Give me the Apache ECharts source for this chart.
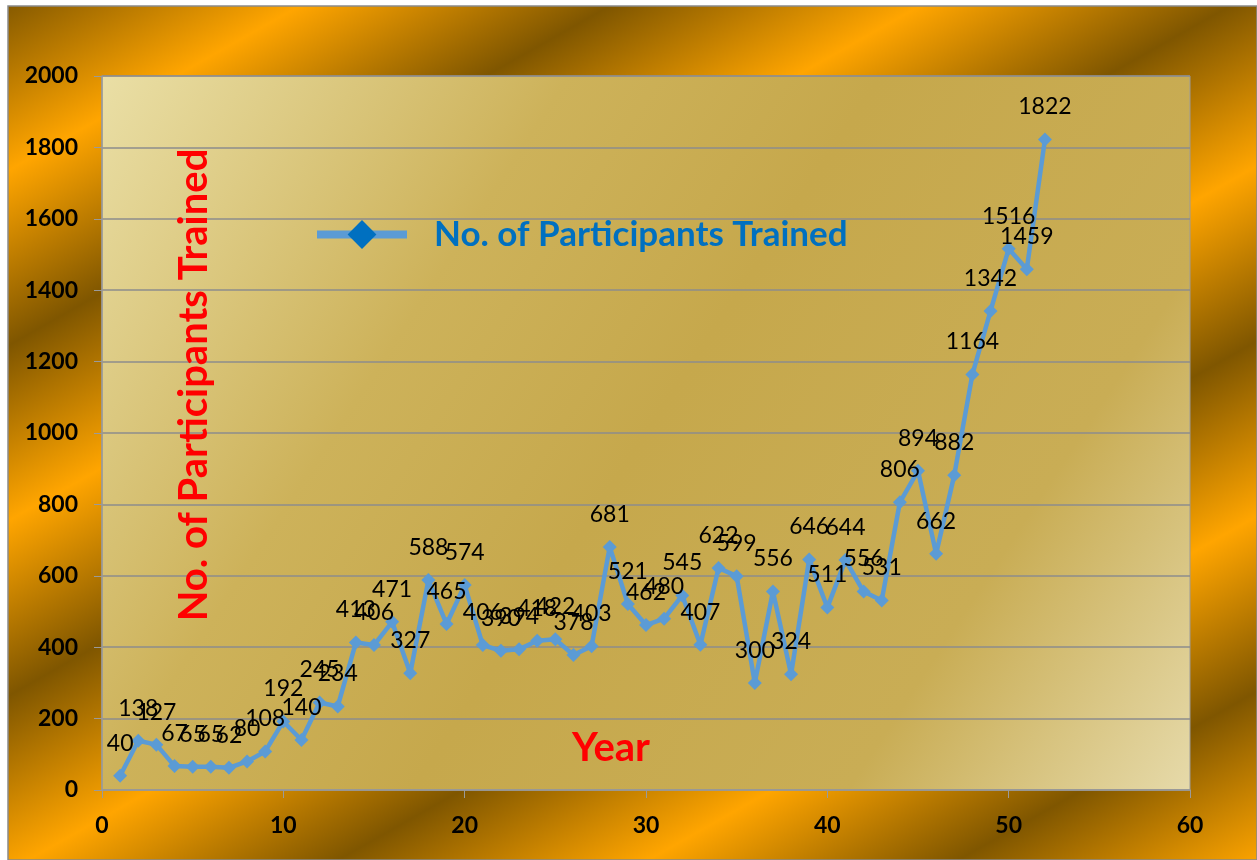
<!DOCTYPE html>
<html>
<head>
<meta charset="utf-8">
<script src="https://cdn.jsdelivr.net/npm/echarts@6/dist/echarts.min.js"></script>
<style>
html,body{margin:0;padding:0;background:#fff;}
#chart{width:1257px;height:860px;}
</style>
</head>
<body>
<div id="chart"></div>
<script>
var seriesName = 'No. of Participants Trained';
var yAxisTitle = 'No. of Participants Trained';
var xAxisTitle = 'Year';
var years = [1,2,3,4,5,6,7,8,9,10,11,12,13,14,15,16,17,18,19,20,21,22,23,24,25,26,27,28,29,30,31,32,33,34,35,36,37,38,39,40,41,42,43,44,45,46,47,48,49,50,51,52];
var participants = [40,138,127,67,65,65,62,80,108,192,140,245,234,413,406,471,327,588,465,574,406,390,394,418,422,378,403,681,521,462,480,545,407,622,599,300,556,324,646,511,644,556,531,806,894,662,882,1164,1342,1516,1459,1822];
var xTicks = {min:0, max:60, interval:10};
var yTicks = {min:0, max:2000, interval:200};

var chart = echarts.init(document.getElementById('chart'), null, {renderer:'canvas'});
var pts = years.map(function(y,i){return [y, participants[i]];});

var dark = '#7F5600', orange = '#FFA500';
var bandStops = [];
for (var i=0;i<=10;i++){ bandStops.push({offset:i/10, color: i%2===0 ? dark : orange}); }

var option = {
  animation:false,
  backgroundColor:'#ffffff',
  graphic:[
    {type:'rect', z:-10, silent:true,
     shape:{x:8,y:6,width:1249,height:854},
     style:{fill:new echarts.graphic.LinearGradient(0,0,750,1328,bandStops,true), stroke:'#8a8a8a', lineWidth:1.5}},
    {type:'text', z:10, silent:true, rotation:Math.PI/2, x:194, y:385,
     style:{text:yAxisTitle, fill:'#FF0000', font:'bold 40px Lato', textAlign:'center', textVerticalAlign:'middle'}},
    {type:'text', z:10, silent:true, x:611, y:748,
     style:{text:xAxisTitle, fill:'#FF0000', font:'bold 40px Lato', textAlign:'center', textVerticalAlign:'middle'}}
  ],
  grid:{left:102, right:67, top:76, bottom:70, show:true,
    borderColor:'#9a9a9a', borderWidth:1,
    backgroundColor:new echarts.graphic.LinearGradient(0,0,1,1,[
      {offset:0,color:'#EADFA6'},
      {offset:0.3,color:'#CDB25A'},
      {offset:0.5,color:'#C6A84C'},
      {offset:0.78,color:'#C9AD55'},
      {offset:1,color:'#E6DAAA'}])},
  legend:{
    left:313, top:217, orient:'horizontal', padding:0,
    itemWidth:90, itemHeight:36,
    textStyle:{fontFamily:'Lato', fontWeight:'bold', fontSize:35, color:'#0070C0', padding:[0,0,0,22]},
    data:[{name:seriesName, itemStyle:{color:'#0070C0'}, lineStyle:{color:'#5B9BD5', width:8}}]
  },
  xAxis:{type:'value', min:xTicks.min, max:xTicks.max, interval:xTicks.interval,
    axisLine:{show:true, lineStyle:{color:'#9a9a9a', width:1.5}},
    axisTick:{show:true, length:8, lineStyle:{color:'#9a9a9a'}},
    splitLine:{show:false},
    axisLabel:{margin:24, fontFamily:'Lato', fontWeight:'bold', fontSize:23, color:'#000',
      formatter:function(v){return String(v);}}},
  yAxis:{type:'value', min:yTicks.min, max:yTicks.max, interval:yTicks.interval,
    axisLine:{show:true, lineStyle:{color:'#9a9a9a', width:1.5}},
    axisTick:{show:true, length:8, lineStyle:{color:'#9a9a9a'}},
    splitLine:{show:true, lineStyle:{color:'#8c8c8c', width:1.5}},
    axisLabel:{margin:24, fontFamily:'Lato', fontWeight:'bold', fontSize:23, color:'#000',
      formatter:function(v){return String(v);}}},
  series:[{
    name:seriesName, type:'line', data:pts,
    symbol:'diamond', symbolSize:14,
    itemStyle:{color:'#5B9BD5'},
    lineStyle:{color:'#5B9BD5', width:4.5},
    label:{show:true, position:'top', distance:14, fontFamily:'Lato', fontSize:23, color:'#000',
      formatter:function(p){return p.value[1];}}
  }]
};
chart.setOption(option);
</script>
</body>
</html>
